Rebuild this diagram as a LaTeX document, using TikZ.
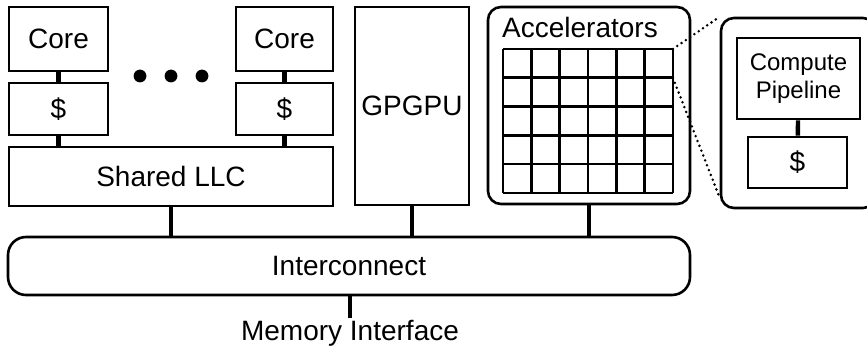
\documentclass[tikz,border=0pt]{standalone}
\usepackage{fontspec}
\setmainfont{Liberation Sans}
\usepackage{tikz}

\tikzset{
  blk/.style={draw, line width=1.3pt, inner sep=0pt, font=\fontsize{14}{16}\selectfont},
  rblk/.style={blk, rounded corners=6.5pt},
  wire/.style={line width=2.2pt},
  zoomline/.style={line width=1.4pt, line cap=round, dash pattern=on 0pt off 2.6pt}
}

\begin{document}
\begin{tikzpicture}[x=0.5pt,y=-0.5pt]
\useasboundingbox (0,0) rectangle (867,352);
\clip (0,0) rectangle (867,352);

\node[blk, minimum width=99pt/2, minimum height=64pt/2] (coreL) at (58.5,39) {Core};
\node[blk, minimum width=99pt/2, minimum height=52pt/2] (cacheL) at (58.5,109) {\$};
\node[blk, minimum width=97pt/2, minimum height=64pt/2] (coreR) at (284.5,39) {Core};
\node[blk, minimum width=97pt/2, minimum height=52pt/2] (cacheR) at (284.5,109) {\$};
\node[blk, minimum width=324pt/2, minimum height=59pt/2] (llc) at (171,176.5) {Shared LLC};
\foreach \x in {140,171,202}
  \fill (\x,76) circle (3.2pt);

\node[blk, minimum width=114pt/2, minimum height=198pt/2] (gpu) at (412,106) {GPGPU};

\node[rblk, minimum width=202pt/2, minimum height=197pt/2] (acc) at (589,105.5) {};
\node[font=\fontsize{14}{16}\selectfont, inner sep=0pt] (acctxt) at (580,27) {Accelerators};
\foreach \i in {0,...,6}
  \draw[line width=1.3pt] (503+28.33*\i,49) -- (503+28.33*\i,193);
\foreach \j in {0,...,5}
  \draw[line width=1.3pt] (503,49+28.8*\j) -- (673,49+28.8*\j);
\coordinate (gtop) at (673,49);
\coordinate (grow) at (673,78);

\node[rblk, minimum width=155pt/2, minimum height=190pt/2] (zoom) at (798.5,113) {};
\node[blk, minimum width=123pt/2, minimum height=81pt/2, align=center,
      font=\fontsize{12}{14}\selectfont] (pipe) at (798.5,78.5) {Compute\\Pipeline};
\node[blk, minimum width=99pt/2, minimum height=51pt/2] (cacheA) at (797.5,162.5) {\$};
\coordinate (zbot) at (719,196);

\node[rblk, rounded corners=9pt, minimum width=682pt/2, minimum height=58pt/2] (ic) at (349,266) {Interconnect};
\node[font=\fontsize{14}{16}\selectfont, inner sep=1pt] (mem) at (350,333) {Memory Interface};

% connections
\draw[wire] (coreL) -- (cacheL);
\draw[wire] (coreR) -- (cacheR);
\draw[wire] (cacheL.south) -- (llc.north -| cacheL.south);
\draw[wire] (cacheR.south) -- (llc.north -| cacheR.south);
\draw[wire] (llc.south) -- (ic.north -| llc.south);
\draw[wire] (gpu.south) -- (ic.north -| gpu.south);
\draw[wire] (acc.south) -- (ic.north -| acc.south);
\draw[wire] (ic.south -| mem.north) -- (mem.north);
\draw[wire] (pipe) -- (cacheA);

\draw[zoomline] (gtop) -- (zoom.north west);
\draw[zoomline] (grow) -- (zbot);
\end{tikzpicture}
\end{document}
